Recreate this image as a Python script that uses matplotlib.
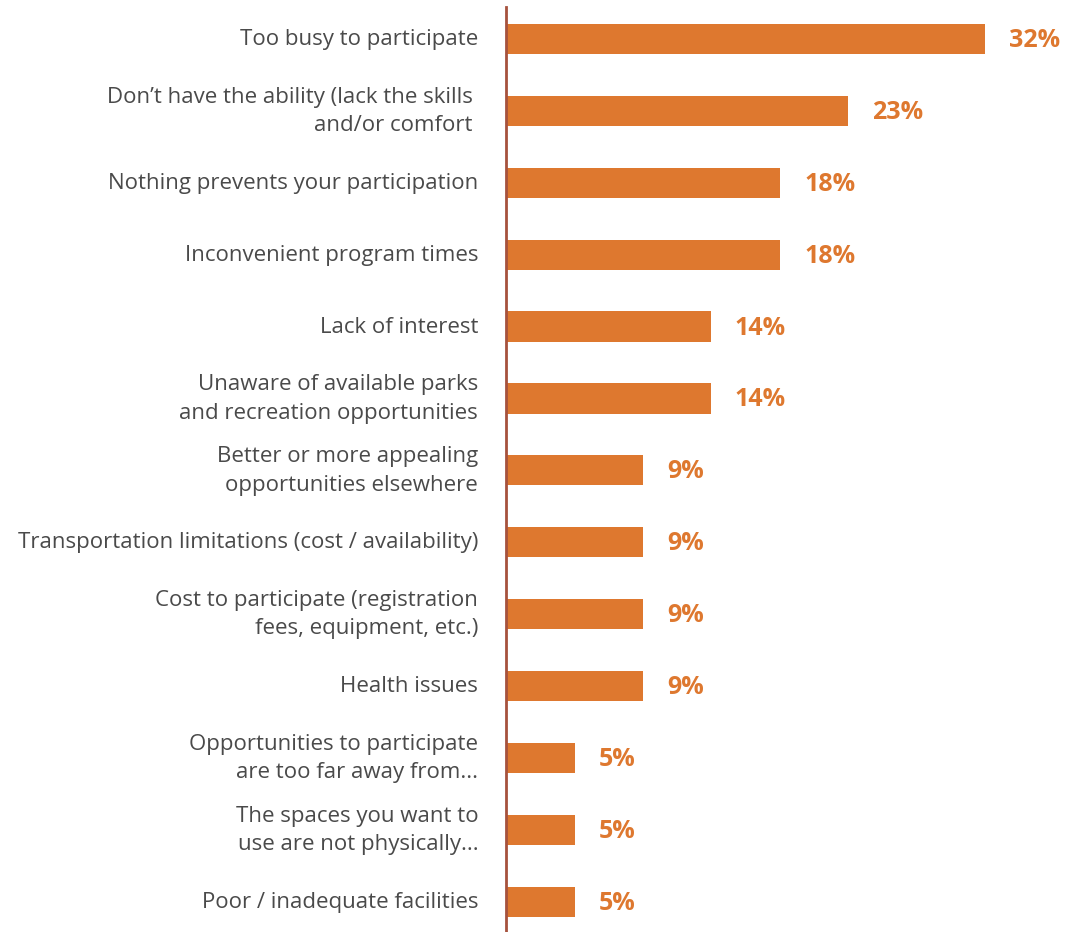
import matplotlib
matplotlib.use("Agg")
import matplotlib.pyplot as plt
import matplotlib.transforms as mtransforms

categories = [
    "Too busy to participate",
    "Don\u2019t have the ability (lack the skills \nand/or comfort ",
    "Nothing prevents your participation",
    "Inconvenient program times",
    "Lack of interest",
    "Unaware of available parks\nand recreation opportunities",
    "Better or more appealing\nopportunities elsewhere",
    "Transportation limitations (cost / availability)",
    "Cost to participate (registration\nfees, equipment, etc.)",
    "Health issues",
    "Opportunities to participate\nare too far away from...",
    "The spaces you want to\nuse are not physically...",
    "Poor / inadequate facilities",
]
values = [31.8, 22.7, 18.2, 18.2, 13.6, 13.6, 9.1, 9.1, 9.1, 9.1, 4.55, 4.55, 4.55]

BAR = "#DE782F"
SPINE = "#A6523D"
TXT = "#4A4A4A"
FONT = ["Open Sans", "DejaVu Sans"]

fig = plt.figure(figsize=(10.82, 9.32), dpi=100)
W, H = 1082, 932
ax = fig.add_axes([506 / W, 0, 1 - 506 / W, 925 / H])

y = list(range(len(categories)))
ax.barh(y, values, height=0.42, color=BAR)
ax.set_xlim(0, 576 / 15.06)
ax.set_ylim(12.42, -0.445)

for yi, v in zip(y, values):
    ax.text(v + 1.6, yi + 0.02, f"{round(v)}%", va="center", ha="left",
            fontsize=18, fontweight="bold", color=BAR, family=FONT)

ax.set_yticks(y)
ax.set_yticklabels(categories, fontsize=16, color=TXT, family=FONT, linespacing=1.45)
ax.tick_params(axis="y", length=0, pad=20)
for lbl in ax.get_yticklabels():
    dy = 4 if "\n" in lbl.get_text() else 1.5
    lbl.set_transform(lbl.get_transform() +
                      mtransforms.ScaledTranslation(0, dy / 72, fig.dpi_scale_trans))
ax.set_xticks([])
for s in ["top", "right", "bottom"]:
    ax.spines[s].set_visible(False)
ax.spines["left"].set_color(SPINE)
ax.spines["left"].set_linewidth(2)

fig.savefig("out.png", dpi=100)
